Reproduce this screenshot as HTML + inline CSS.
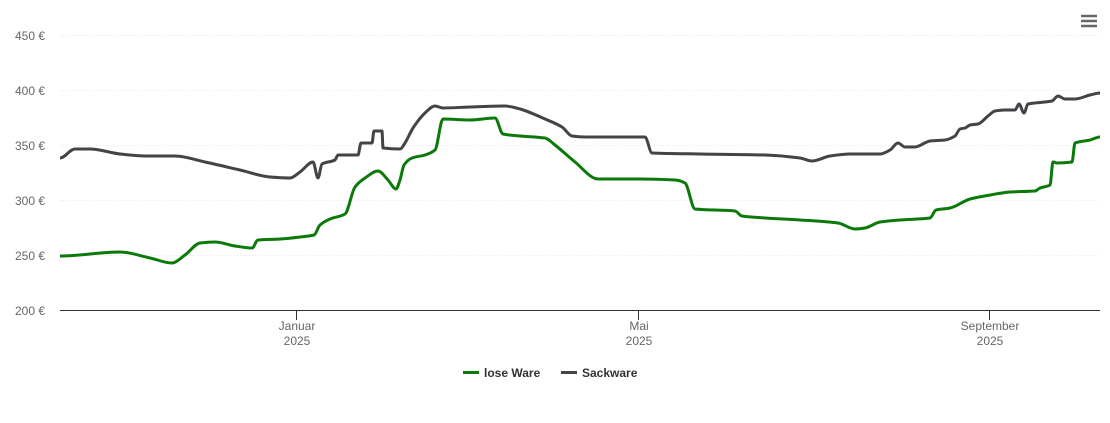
<!DOCTYPE html>
<html><head><meta charset="utf-8"><style>
body{margin:0;background:#fff;}
svg{display:block;font-family:"Liberation Sans",sans-serif;}
</style></head><body>
<svg id="s" width="1110" height="423" viewBox="0 0 1110 423">
<rect width="1110" height="423" fill="#fff"/>
<g stroke="#e6e6e6" stroke-width="1" stroke-dasharray="1,2">
<line x1="60" x2="1100" y1="35.5" y2="35.5"/>
<line x1="60" x2="1100" y1="90.5" y2="90.5"/>
<line x1="60" x2="1100" y1="145.5" y2="145.5"/>
<line x1="60" x2="1100" y1="200.5" y2="200.5"/>
<line x1="60" x2="1100" y1="255.5" y2="255.5"/>
</g>
<line x1="60" x2="1100" y1="310.5" y2="310.5" stroke="#333" stroke-width="1"/>
<g stroke="#333"><line x1="296.5" x2="296.5" y1="310" y2="320"/><line x1="638.5" x2="638.5" y1="310" y2="320"/><line x1="989.5" x2="989.5" y1="310" y2="320"/></g>
<g font-size="12" fill="#666" text-anchor="end">
<text x="45" y="40">450 €</text><text x="45" y="95">400 €</text><text x="45" y="150">350 €</text>
<text x="45" y="205">300 €</text><text x="45" y="260">250 €</text><text x="45" y="315">200 €</text>
</g>
<g font-size="12" fill="#666" text-anchor="middle">
<text x="297" y="330">Januar</text><text x="297" y="345">2025</text>
<text x="639" y="330">Mai</text><text x="639" y="345">2025</text>
<text x="990" y="330">September</text><text x="990" y="345">2025</text>
</g>
<path id="d" fill="none" stroke="#434348" stroke-width="3" stroke-linejoin="round" d="M60,158 L75,149 L90,149 L120,154 L145,156 L175,156 L205,162 L240,170 L270,177 L290,178 L300,172 L313,162 L318,178 L322,164 L335,160 L338,155 L358,155 L361,143 L372,143 L374,131 L382,131 L383,148 L400,149 L405,143 L413,128 L425,113 L435,106 L443,108 L470,107 L505,106 L520,109 L545,119 L562,127 L572,136 L585,137 L645,137 L652,153 L700,154 L765,155 L800,158 L812,161 L830,156 L850,154 L880,154 L890,150 L898,143 L905,147 L915,147 L930,141 L945,140 L955,136 L960,129 L965,128 L970,125 L978,124 L988,116 L995,111 L1005,110 L1015,110 L1019,104 L1024,113 L1028,104 L1045,102 L1052,101 L1058,96 L1065,99 L1075,99 L1090,95 L1100,93"/>
<path id="g" fill="none" stroke="#0b7a0b" stroke-width="3" stroke-linejoin="round" d="M60,256 L120,252 L150,258 L172,263 L185,255 L200,243 L215,242 L235,246 L252,248 L258,240 L280,239 L300,237 L314,235 L320,225 L330,219 L345,214 L355,187 L365,178 L378,171 L388,180 L396,189 L400,180 L404,165 L412,158 L425,155 L435,150 L443,119 L470,120 L495,118 L503,134 L520,136 L545,138 L555,145 L575,162 L598,179 L640,179 L675,180 L685,183 L695,209 L735,211 L742,216 L765,218 L800,220 L838,223 L855,229 L865,228 L880,222 L900,220 L930,218 L936,210 L950,208 L970,199 L990,195 L1010,192 L1035,191 L1040,188 L1050,185 L1053,162 L1057,163 L1072,162 L1075,143 L1090,140 L1100,137"/>
<g stroke="#666" stroke-width="2.5"><line x1="1081" x2="1097" y1="16" y2="16"/><line x1="1081" x2="1097" y1="21" y2="21"/><line x1="1081" x2="1097" y1="26" y2="26"/></g>
<line x1="463" x2="479" y1="372.5" y2="372.5" stroke="#0b7a0b" stroke-width="3"/>
<text x="484" y="377" font-size="12" font-weight="bold" fill="#333">lose Ware</text>
<line x1="561" x2="577" y1="372.5" y2="372.5" stroke="#434348" stroke-width="3"/>
<text x="582" y="377" font-size="12" font-weight="bold" fill="#333">Sackware</text>
</svg>
<script>
['d','g'].forEach(function(id){
 var el=document.getElementById(id);
 var p=el.getAttribute('d').replace(/[ML]/g,' ').trim().split(/\s+/).map(function(s){return s.split(',').map(Number);});
 var n=p.length,dd='M'+p[0][0]+','+p[0][1];
 var m=[];
 for(var i=0;i<n;i++){
  if(i==0||i==n-1){m.push(0);continue;}
  var s1=(p[i][1]-p[i-1][1])/(p[i][0]-p[i-1][0]),s2=(p[i+1][1]-p[i][1])/(p[i+1][0]-p[i][0]);
  m.push(s1*s2<=0?0:2*s1*s2/(s1+s2));
 }
 for(var i=0;i<n-1;i++){
  var h=(p[i+1][0]-p[i][0])/3;
  dd+=' C'+(p[i][0]+h)+','+(p[i][1]+m[i]*h)+' '+(p[i+1][0]-h)+','+(p[i+1][1]-m[i+1]*h)+' '+p[i+1][0]+','+p[i+1][1];
 }
 el.setAttribute('d',dd);
});
</script>
</body></html>
